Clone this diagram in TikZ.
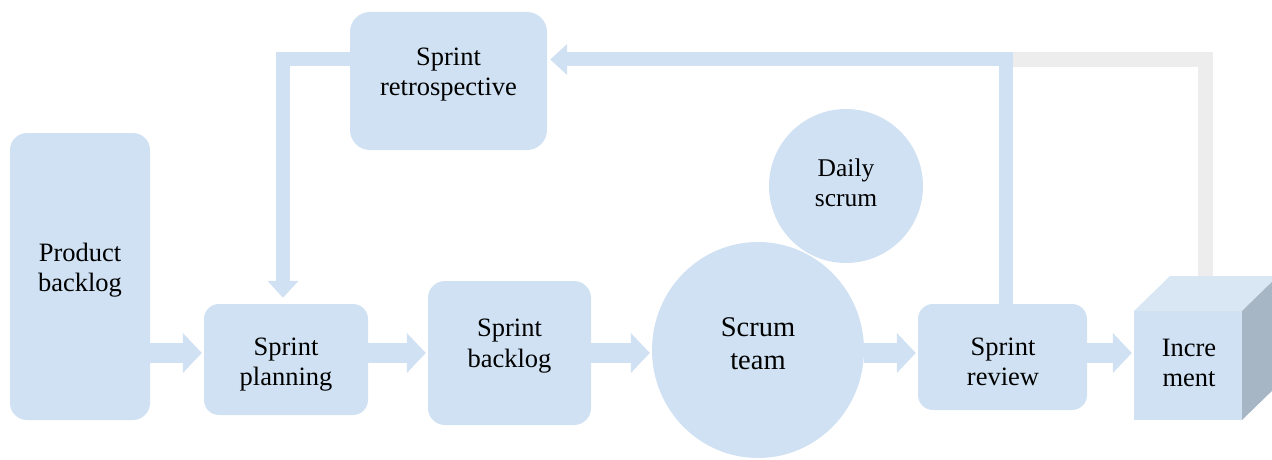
\documentclass[tikz,border=0pt]{standalone}
\usepackage{fontspec}
\setmainfont{Liberation Serif}
\usetikzlibrary{arrows.meta,shapes.geometric,calc}
\definecolor{boxblue}{HTML}{CFE1F2}
\definecolor{topblue}{HTML}{D9E7F4}
\definecolor{sidegray}{HTML}{A7B6C4}
\definecolor{lightgray}{HTML}{EDEDED}
\begin{document}
\begin{tikzpicture}[x=1pt,y=-1pt,
  shapebox/.style={draw=none,fill=boxblue,rounded corners=17pt,inner sep=0pt},
  roundshape/.style={draw=none,fill=boxblue,inner sep=0pt},
  lbl/.style={align=center,inner sep=0pt,font=\fontsize{26.5}{30.5}\selectfont,text=black},
  blk/.style={draw=boxblue,line width=20pt,-{Triangle[width=39pt,length=19pt]},shorten >=2pt},
  fb/.style={draw=boxblue,line width=14pt,line join=miter,-{Triangle[width=30pt,length=17pt]}},
  gline/.style={draw=lightgray,line width=15pt,line join=miter}]
\useasboundingbox (0,0) rectangle (1272,460);
\clip (0,0) rectangle (1272,460);

% nodes
\node[shapebox,minimum width=140pt,minimum height=287pt] (pb) at (80,276.5) {};
\node[shapebox,rounded corners=15pt,minimum width=164pt,minimum height=111pt] (sp) at (286,359.5) {};
\node[shapebox,minimum width=163pt,minimum height=144pt] (sb) at (509.5,353) {};
\node[shapebox,rounded corners=20pt,minimum width=197pt,minimum height=138pt] (sret) at (448.5,81) {};
\node[shapebox,rounded corners=15pt,minimum width=169pt,minimum height=106pt] (srev) at (1002.5,357) {};
\node[roundshape,circle,minimum size=154pt] (ds) at (846,186) {};
\node[roundshape,ellipse,minimum width=212pt,minimum height=216pt] (st) at (758,350) {};

% cube
\coordinate (inc-fl) at (1134,311);
\coordinate (inc-fr) at (1242,311);
\coordinate (inc-bl) at (1134,420);
\coordinate (inc-br) at (1242,420);
\fill[boxblue] (inc-fl) rectangle (inc-br);
\fill[topblue] (inc-fl) -- ++(36,-35) -- ++(108,0) -- (inc-fr) -- cycle;
\fill[sidegray] (inc-fr) -- ++(36,-35) -- ++(0,109) -- (inc-br) -- cycle;
\node[inner sep=0pt,minimum width=108pt,minimum height=109pt] (inc) at (1188,365.5) {};

% labels
\node[lbl] (pb-t) at (80,270) {Product\\backlog};
\node[lbl] (sp-t) at (286,364.5) {Sprint\\planning};
\node[lbl] (sb-t) at (509.5,346) {Sprint\\backlog};
\node[lbl] (sret-t) at (448.5,74.5) {Sprint\\retrospective};
\node[lbl] (srev-t) at (1003,362) {Sprint\\review};
\node[lbl,font=\fontsize{25.5}{29.5}\selectfont] (ds-t) at (846,183) {Daily\\scrum};
\node[lbl,font=\fontsize{28.5}{33}\selectfont] (st-t) at (758,344) {Scrum\\team};
\node[lbl] (inc-t) at (1189,363) {Incre\\ment};

% connectors
\coordinate (row) at (0,353);
\coordinate (top) at (0,59.5);
\draw[blk] (pb.east |- row) -- (sp.west |- row);
\draw[blk] (sp.east |- row) -- (sb.west |- row);
\draw[blk] (sb.east |- row) -- (st.west |- row);
\draw[blk] (st.east |- row) -- (srev.west |- row);
\draw[blk] (srev.east |- row) -- (inc.west |- row);

\coordinate (gx) at (1205.5,0);
\coordinate (bx) at (1006,0);
\coordinate (lx) at (283,0);
\draw[gline] (gx |- inc.north) ++(0,-35) -- (gx |- top) -- (bx |- top);
\draw[fb] (bx |- srev.north) -- (bx |- top) -- ([xshift=3pt]sret.east |- top);
\draw[fb,shorten >=6pt] (sret.west |- top) -- (lx |- top) -- (lx |- sp.north);
\end{tikzpicture}
\end{document}
